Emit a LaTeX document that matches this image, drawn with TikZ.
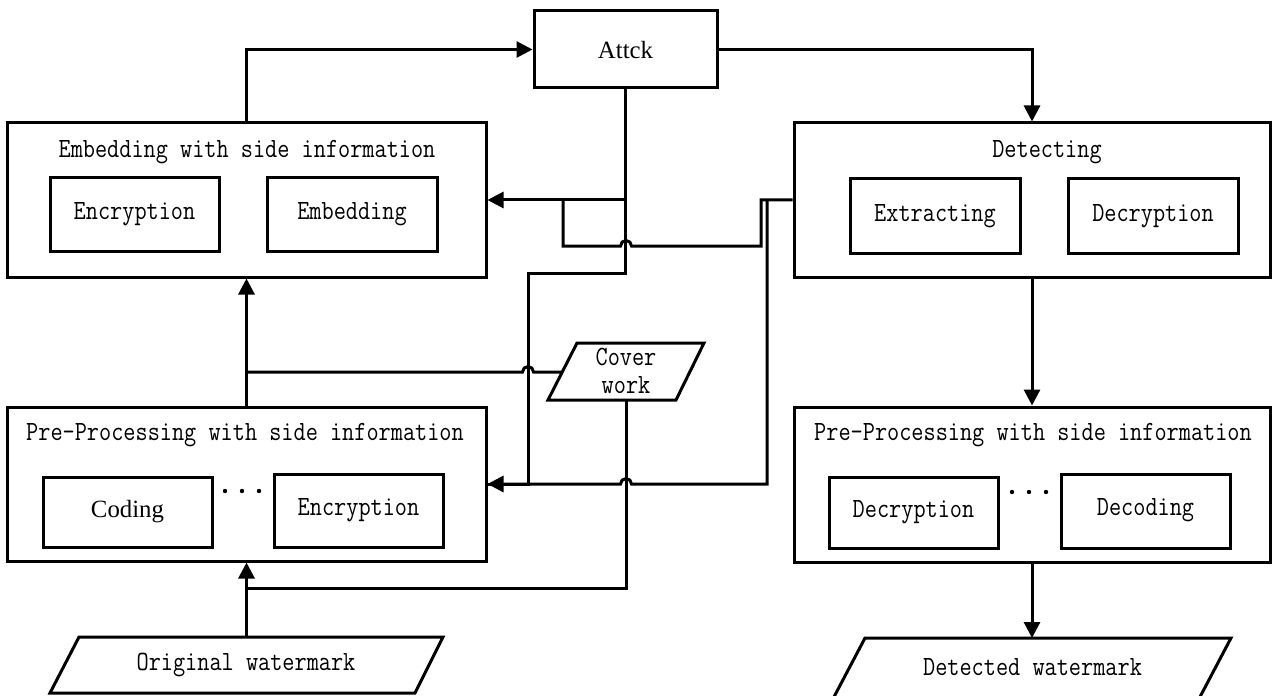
\documentclass[tikz,border=0pt]{standalone}
\usepackage{fontspec}
\usepackage{graphicx}
\setmainfont{Liberation Serif}
\usetikzlibrary{arrows.meta,fit}
\newcommand\mtx[1]{\scalebox{1}[1.18]{#1}}
\tikzset{
  bx/.style={draw, line width=1.5pt, inner sep=0pt},
  ln/.style={line width=1.5pt},
  arr/.style={ln, -{Triangle[length=8pt,width=8pt]}},
  mono/.style={font=\fontsize{11.8}{14}\selectfont\ttfamily, inner sep=0pt},
  serif/.style={font=\fontsize{12.4}{14}\selectfont, inner sep=0pt},
  dot/.style={fill=black},
}
\begin{document}
\begin{tikzpicture}[x=0.5pt,y=-0.5pt]
\useasboundingbox (0,0) rectangle (1272,695);
\clip (0,0) rectangle (1272,695);
% Attack
\node[bx, fit={(534,11)(717,88)}] (att) {};
\node[serif] (attT) at (625.5,50) {Attck};
% Embedding with side information
\node[bx, fit={(7,123)(486,277)}] (emb) {};
\node[mono] (embT) at (247,152) {\mtx{Embedding with side information}};
\node[bx, fit={(50,178)(219,251)}] (enc1) {};
\node[mono] at (enc1.center) {\mtx{Encryption}};
\node[bx, fit={(267,178)(437,251)}] (embd) {};
\node[mono] at (embd.center) {\mtx{Embedding}};
% Pre-processing (left)
\node[bx, fit={(7,407)(486,561)}] (pre) {};
\node[mono] (preT) at (245,435) {\mtx{Pre-Processing with side information}};
\node[bx, fit={(43,477)(212,547)}] (cod) {};
\node[serif] at (127.5,512) {Coding};
\node[bx, fit={(274,474)(443,547)}] (enc2) {};
\node[mono] at (358.5,510) {\mtx{Encryption}};
\fill[dot] (225,491) circle (1.1pt) (242,491) circle (1.1pt) (259,491) circle (1.1pt);
% Detecting
\node[bx, fit={(794,123)(1270,277)}] (det) {};
\node[mono] (detT) at (1047,152) {\mtx{Detecting}};
\node[bx, fit={(850,179)(1020,253)}] (ext) {};
\node[mono] at (ext.center) {\mtx{Extracting}};
\node[bx, fit={(1068,179)(1238,253)}] (dec1) {};
\node[mono] at (dec1.center) {\mtx{Decryption}};
% Pre-processing (right)
\node[bx, fit={(794,407)(1270,562)}] (pre2) {};
\node[mono] (pre2T) at (1033,435) {\mtx{Pre-Processing with side information}};
\node[bx, fit={(829,477)(998,548)}] (dec2) {};
\node[mono] at (913.5,512.5) {\mtx{Decryption}};
\node[bx, fit={(1061,474)(1230,548)}] (dcd) {};
\node[mono] at (1145.5,510) {\mtx{Decoding}};
\fill[dot] (1012,492) circle (1.1pt) (1029,492) circle (1.1pt) (1046,492) circle (1.1pt);
% Cover work
\draw[bx] (577,343) -- (704,343) -- (676,400) -- (548,400) -- cycle;
\node[mono] (cov1) at (626,357) {\mtx{Cover}};
\node[mono] (cov2) at (626,385) {\mtx{work}};
\coordinate (covL) at (562,372);
\coordinate (covB) at (626,400);
% Original watermark
\draw[bx] (79,637) -- (443,637) -- (415,693) -- (50,693) -- cycle;
\node[mono] (orig) at (246,665) {\mtx{Original watermark}};
\coordinate (origT) at (246.5,637);
% Detected watermark
\draw[bx] (865,638) -- (1231,638) -- (1199.4,698) -- (833.4,698) -- cycle;
\node[mono] (detw) at (1032.5,667) {\mtx{Detected watermark}};
\coordinate (detwT) at (1032,638);
% connectors
\draw[arr] (emb.north) |- (att.west);
\draw[arr] (att.east) -| (det.north);
\draw[ln] (att.south) |- (528,273) |- (pre.east);
\draw[arr] (att.south |- emb.east) -- (emb.east);
\draw[ln] (det.west) -| (761,246) -- (631.5,246) arc (0:-180:5.5) -- (563,246) -- (563,200);
\draw[arr] (767,200) |- (631.5,484) arc (0:-180:5.5) -- (pre.east);
\draw[arr] (pre.north) -- (emb.south);
\draw[ln] (covL) -- (533.5,372) arc (0:-180:5.5) -- (pre.north |- covL);
\draw[ln] (covB) |- (origT |- 0,588);
\draw[arr] (origT) -- (pre.south);
\draw[arr] (det.south) -- (pre2.north);
\draw[arr] (pre2.south) -- (detwT);
\end{tikzpicture}
\end{document}
